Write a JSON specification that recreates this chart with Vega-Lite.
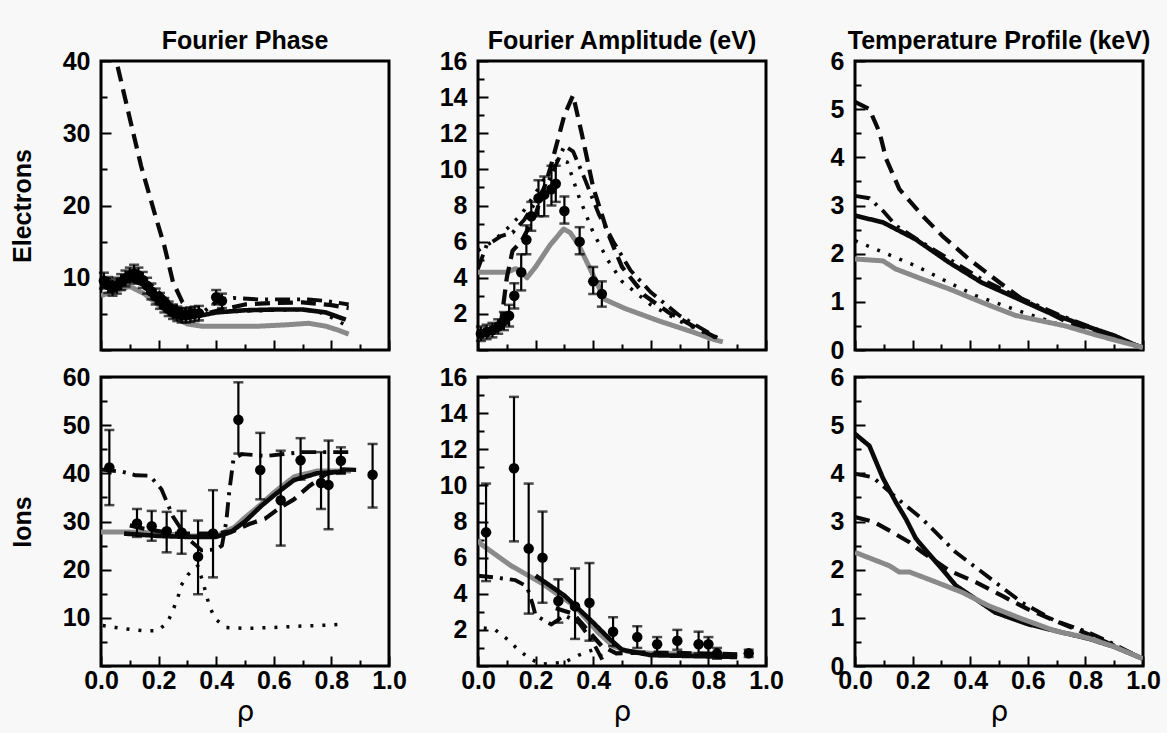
{
"$schema":"https://vega.github.io/schema/vega-lite/v6.json",
"background":"#f8f8f8",
"padding":{"left":8,"top":27,"right":5,"bottom":5},
"config":{
 "view":{"stroke":"#000","strokeWidth":3},
 "axis":{"grid":false,"domain":false,"tickColor":"#000","tickWidth":2,"labelFont":"Liberation Sans","labelFontWeight":"bold","labelFontSize":25,"labelColor":"#000","titleColor":"#000","labelFlush":false,"labelOverlap":false},
 "title":{"font":"Liberation Sans","fontSize":25,"fontWeight":"bold","color":"#000","baseline":"alphabetic","offset":-5}
},
"datasets":{
"L":[
{"p":"TL","s":"gray","x":0,"y":7.5},{"p":"TL","s":"gray","x":0.05,"y":8.2},{"p":"TL","s":"gray","x":0.1,"y":8.8},{"p":"TL","s":"gray","x":0.15,"y":7.8},{"p":"TL","s":"gray","x":0.2,"y":6.2},{"p":"TL","s":"gray","x":0.25,"y":4.6},{"p":"TL","s":"gray","x":0.3,"y":3.6},{"p":"TL","s":"gray","x":0.35,"y":3.3},{"p":"TL","s":"gray","x":0.45,"y":3.3},{"p":"TL","s":"gray","x":0.55,"y":3.3},{"p":"TL","s":"gray","x":0.65,"y":3.5},{"p":"TL","s":"gray","x":0.72,"y":3.7},{"p":"TL","s":"gray","x":0.78,"y":3.3},{"p":"TL","s":"gray","x":0.82,"y":2.8},{"p":"TL","s":"gray","x":0.86,"y":2.2},
{"p":"TL","s":"solid","x":0,"y":8.8},{"p":"TL","s":"solid","x":0.05,"y":9.2},{"p":"TL","s":"solid","x":0.1,"y":9.8},{"p":"TL","s":"solid","x":0.15,"y":9.0},{"p":"TL","s":"solid","x":0.2,"y":7.5},{"p":"TL","s":"solid","x":0.25,"y":6.0},{"p":"TL","s":"solid","x":0.3,"y":5.0},{"p":"TL","s":"solid","x":0.35,"y":4.8},{"p":"TL","s":"solid","x":0.4,"y":5.2},{"p":"TL","s":"solid","x":0.5,"y":5.5},{"p":"TL","s":"solid","x":0.6,"y":5.6},{"p":"TL","s":"solid","x":0.7,"y":5.6},{"p":"TL","s":"solid","x":0.78,"y":5.2},{"p":"TL","s":"solid","x":0.85,"y":4.2},
{"p":"TL","s":"dash","x":0.058,"y":39.2},{"p":"TL","s":"dash","x":0.098,"y":32.4},{"p":"TL","s":"dash","x":0.139,"y":25.5},{"p":"TL","s":"dash","x":0.185,"y":19.1},{"p":"TL","s":"dash","x":0.22,"y":14.4},{"p":"TL","s":"dash","x":0.25,"y":9.4},{"p":"TL","s":"dash","x":0.283,"y":6.6},{"p":"TL","s":"dash","x":0.32,"y":5.3},{"p":"TL","s":"dash","x":0.36,"y":5.0},{"p":"TL","s":"dash","x":0.4,"y":5.4},{"p":"TL","s":"dash","x":0.5,"y":6.3},{"p":"TL","s":"dash","x":0.6,"y":6.5},{"p":"TL","s":"dash","x":0.7,"y":6.6},{"p":"TL","s":"dash","x":0.8,"y":6.2},{"p":"TL","s":"dash","x":0.86,"y":5.8},
{"p":"TL","s":"dashdot","x":0,"y":9.5},{"p":"TL","s":"dashdot","x":0.06,"y":9.2},{"p":"TL","s":"dashdot","x":0.12,"y":10.3},{"p":"TL","s":"dashdot","x":0.18,"y":8.8},{"p":"TL","s":"dashdot","x":0.24,"y":6.5},{"p":"TL","s":"dashdot","x":0.3,"y":5.3},{"p":"TL","s":"dashdot","x":0.36,"y":5.4},{"p":"TL","s":"dashdot","x":0.41,"y":7.0},{"p":"TL","s":"dashdot","x":0.46,"y":7.2},{"p":"TL","s":"dashdot","x":0.55,"y":7.0},{"p":"TL","s":"dashdot","x":0.65,"y":7.0},{"p":"TL","s":"dashdot","x":0.72,"y":7.0},{"p":"TL","s":"dashdot","x":0.78,"y":6.8},{"p":"TL","s":"dashdot","x":0.86,"y":6.3},
{"p":"TL","s":"dot","x":0.3,"y":5.0},{"p":"TL","s":"dot","x":0.4,"y":5.2},{"p":"TL","s":"dot","x":0.5,"y":5.4},{"p":"TL","s":"dot","x":0.6,"y":5.5},{"p":"TL","s":"dot","x":0.7,"y":5.6},{"p":"TL","s":"dot","x":0.76,"y":5.2},{"p":"TL","s":"dot","x":0.8,"y":4.5},{"p":"TL","s":"dot","x":0.86,"y":3.2},

{"p":"TM","s":"gray","x":0,"y":4.3},{"p":"TM","s":"gray","x":0.05,"y":4.3},{"p":"TM","s":"gray","x":0.1,"y":4.3},{"p":"TM","s":"gray","x":0.13,"y":4.5},{"p":"TM","s":"gray","x":0.15,"y":4.4},{"p":"TM","s":"gray","x":0.17,"y":4.0},{"p":"TM","s":"gray","x":0.2,"y":4.6},{"p":"TM","s":"gray","x":0.25,"y":5.8},{"p":"TM","s":"gray","x":0.297,"y":6.7},{"p":"TM","s":"gray","x":0.32,"y":6.5},{"p":"TM","s":"gray","x":0.35,"y":5.8},{"p":"TM","s":"gray","x":0.395,"y":4.3},{"p":"TM","s":"gray","x":0.44,"y":2.8},{"p":"TM","s":"gray","x":0.51,"y":2.3},{"p":"TM","s":"gray","x":0.63,"y":1.6},{"p":"TM","s":"gray","x":0.745,"y":1.0},{"p":"TM","s":"gray","x":0.815,"y":0.6},{"p":"TM","s":"gray","x":0.85,"y":0.45},
{"p":"TM","s":"dash","x":0,"y":0.8},{"p":"TM","s":"dash","x":0.05,"y":1.0},{"p":"TM","s":"dash","x":0.08,"y":1.5},{"p":"TM","s":"dash","x":0.1,"y":4.0},{"p":"TM","s":"dash","x":0.12,"y":5.5},{"p":"TM","s":"dash","x":0.15,"y":6.0},{"p":"TM","s":"dash","x":0.2,"y":7.5},{"p":"TM","s":"dash","x":0.25,"y":10.0},{"p":"TM","s":"dash","x":0.3,"y":13.0},{"p":"TM","s":"dash","x":0.33,"y":14.1},{"p":"TM","s":"dash","x":0.36,"y":12.0},{"p":"TM","s":"dash","x":0.4,"y":9.0},{"p":"TM","s":"dash","x":0.45,"y":6.5},{"p":"TM","s":"dash","x":0.5,"y":4.6},{"p":"TM","s":"dash","x":0.58,"y":3.0},{"p":"TM","s":"dash","x":0.66,"y":2.1},{"p":"TM","s":"dash","x":0.75,"y":1.3},{"p":"TM","s":"dash","x":0.85,"y":0.5},
{"p":"TM","s":"dashdot","x":0,"y":4.5},{"p":"TM","s":"dashdot","x":0.03,"y":5.8},{"p":"TM","s":"dashdot","x":0.08,"y":6.3},{"p":"TM","s":"dashdot","x":0.12,"y":6.5},{"p":"TM","s":"dashdot","x":0.16,"y":7.2},{"p":"TM","s":"dashdot","x":0.2,"y":8.2},{"p":"TM","s":"dashdot","x":0.25,"y":9.5},{"p":"TM","s":"dashdot","x":0.3,"y":11.3},{"p":"TM","s":"dashdot","x":0.33,"y":11.0},{"p":"TM","s":"dashdot","x":0.37,"y":9.5},{"p":"TM","s":"dashdot","x":0.42,"y":7.5},{"p":"TM","s":"dashdot","x":0.47,"y":6.0},{"p":"TM","s":"dashdot","x":0.53,"y":4.4},{"p":"TM","s":"dashdot","x":0.6,"y":3.2},{"p":"TM","s":"dashdot","x":0.7,"y":1.9},{"p":"TM","s":"dashdot","x":0.85,"y":0.5},
{"p":"TM","s":"dot","x":0,"y":5.5},{"p":"TM","s":"dot","x":0.05,"y":6.0},{"p":"TM","s":"dot","x":0.1,"y":6.7},{"p":"TM","s":"dot","x":0.15,"y":7.5},{"p":"TM","s":"dot","x":0.2,"y":8.7},{"p":"TM","s":"dot","x":0.25,"y":10.0},{"p":"TM","s":"dot","x":0.28,"y":10.6},{"p":"TM","s":"dot","x":0.31,"y":10.4},{"p":"TM","s":"dot","x":0.35,"y":8.5},{"p":"TM","s":"dot","x":0.4,"y":6.5},{"p":"TM","s":"dot","x":0.45,"y":5.0},{"p":"TM","s":"dot","x":0.5,"y":3.8},{"p":"TM","s":"dot","x":0.6,"y":2.5},{"p":"TM","s":"dot","x":0.7,"y":1.6},{"p":"TM","s":"dot","x":0.85,"y":0.5},

{"p":"TR","s":"dash","x":0,"y":5.15},{"p":"TR","s":"dash","x":0.05,"y":5.0},{"p":"TR","s":"dash","x":0.085,"y":4.52},{"p":"TR","s":"dash","x":0.108,"y":3.97},{"p":"TR","s":"dash","x":0.154,"y":3.34},{"p":"TR","s":"dash","x":0.234,"y":2.79},{"p":"TR","s":"dash","x":0.303,"y":2.37},{"p":"TR","s":"dash","x":0.395,"y":1.89},{"p":"TR","s":"dash","x":0.487,"y":1.47},{"p":"TR","s":"dash","x":0.579,"y":1.06},{"p":"TR","s":"dash","x":0.73,"y":0.6},{"p":"TR","s":"dash","x":0.85,"y":0.35},{"p":"TR","s":"dash","x":1,"y":0.05},
{"p":"TR","s":"dashdot","x":0,"y":3.2},{"p":"TR","s":"dashdot","x":0.05,"y":3.15},{"p":"TR","s":"dashdot","x":0.097,"y":2.89},{"p":"TR","s":"dashdot","x":0.142,"y":2.58},{"p":"TR","s":"dashdot","x":0.234,"y":2.23},{"p":"TR","s":"dashdot","x":0.326,"y":1.89},{"p":"TR","s":"dashdot","x":0.44,"y":1.47},{"p":"TR","s":"dashdot","x":0.556,"y":1.13},{"p":"TR","s":"dashdot","x":0.7,"y":0.75},{"p":"TR","s":"dashdot","x":0.85,"y":0.4},{"p":"TR","s":"dashdot","x":1,"y":0.05},
{"p":"TR","s":"solid","x":0,"y":2.79},{"p":"TR","s":"solid","x":0.097,"y":2.65},{"p":"TR","s":"solid","x":0.21,"y":2.3},{"p":"TR","s":"solid","x":0.326,"y":1.82},{"p":"TR","s":"solid","x":0.44,"y":1.4},{"p":"TR","s":"solid","x":0.556,"y":1.09},{"p":"TR","s":"solid","x":0.671,"y":0.78},{"p":"TR","s":"solid","x":0.8,"y":0.5},{"p":"TR","s":"solid","x":0.9,"y":0.3},{"p":"TR","s":"solid","x":1,"y":0.03},
{"p":"TR","s":"dot","x":0,"y":2.27},{"p":"TR","s":"dot","x":0.097,"y":2.03},{"p":"TR","s":"dot","x":0.21,"y":1.75},{"p":"TR","s":"dot","x":0.326,"y":1.4},{"p":"TR","s":"dot","x":0.419,"y":1.13},{"p":"TR","s":"dot","x":0.55,"y":0.85},{"p":"TR","s":"dot","x":0.7,"y":0.55},{"p":"TR","s":"dot","x":0.85,"y":0.3},{"p":"TR","s":"dot","x":1,"y":0.05},
{"p":"TR","s":"gray","x":0,"y":1.89},{"p":"TR","s":"gray","x":0.097,"y":1.85},{"p":"TR","s":"gray","x":0.142,"y":1.68},{"p":"TR","s":"gray","x":0.234,"y":1.47},{"p":"TR","s":"gray","x":0.326,"y":1.27},{"p":"TR","s":"gray","x":0.44,"y":0.99},{"p":"TR","s":"gray","x":0.556,"y":0.72},{"p":"TR","s":"gray","x":0.73,"y":0.5},{"p":"TR","s":"gray","x":0.844,"y":0.3},{"p":"TR","s":"gray","x":1,"y":0.05},

{"p":"BL","s":"gray","x":0,"y":27.8},{"p":"BL","s":"gray","x":0.1,"y":27.8},{"p":"BL","s":"gray","x":0.2,"y":27.6},{"p":"BL","s":"gray","x":0.3,"y":27.0},{"p":"BL","s":"gray","x":0.4,"y":27.0},{"p":"BL","s":"gray","x":0.463,"y":28.8},{"p":"BL","s":"gray","x":0.5,"y":30.8},{"p":"BL","s":"gray","x":0.556,"y":33.6},{"p":"BL","s":"gray","x":0.6,"y":36.0},{"p":"BL","s":"gray","x":0.671,"y":39.3},{"p":"BL","s":"gray","x":0.752,"y":40.5},{"p":"BL","s":"gray","x":0.868,"y":40.5},
{"p":"BL","s":"solid","x":0.08,"y":27.5},{"p":"BL","s":"solid","x":0.2,"y":27.0},{"p":"BL","s":"solid","x":0.3,"y":26.8},{"p":"BL","s":"solid","x":0.4,"y":26.8},{"p":"BL","s":"solid","x":0.45,"y":27.8},{"p":"BL","s":"solid","x":0.5,"y":30.0},{"p":"BL","s":"solid","x":0.556,"y":33.2},{"p":"BL","s":"solid","x":0.6,"y":35.4},{"p":"BL","s":"solid","x":0.67,"y":38.6},{"p":"BL","s":"solid","x":0.75,"y":40.0},{"p":"BL","s":"solid","x":0.85,"y":40.4},
{"p":"BL","s":"dash","x":0.1,"y":29.2},{"p":"BL","s":"dash","x":0.15,"y":28.5},{"p":"BL","s":"dash","x":0.25,"y":27.5},{"p":"BL","s":"dash","x":0.4,"y":27.5},{"p":"BL","s":"dash","x":0.46,"y":28.0},{"p":"BL","s":"dash","x":0.52,"y":29.6},{"p":"BL","s":"dash","x":0.57,"y":30.6},{"p":"BL","s":"dash","x":0.62,"y":32.8},{"p":"BL","s":"dash","x":0.67,"y":34.6},{"p":"BL","s":"dash","x":0.72,"y":37.2},{"p":"BL","s":"dash","x":0.78,"y":39.8},{"p":"BL","s":"dash","x":0.84,"y":40.8},{"p":"BL","s":"dash","x":0.9,"y":40.7},
{"p":"BL","s":"dashdot","x":0,"y":40.8},{"p":"BL","s":"dashdot","x":0.075,"y":40.3},{"p":"BL","s":"dashdot","x":0.12,"y":39.6},{"p":"BL","s":"dashdot","x":0.17,"y":39.5},{"p":"BL","s":"dashdot","x":0.21,"y":36.7},{"p":"BL","s":"dashdot","x":0.25,"y":31.0},{"p":"BL","s":"dashdot","x":0.3,"y":26.5},{"p":"BL","s":"dashdot","x":0.35,"y":24.0},{"p":"BL","s":"dashdot","x":0.4,"y":24.2},{"p":"BL","s":"dashdot","x":0.42,"y":25.0},{"p":"BL","s":"dashdot","x":0.435,"y":30.0},{"p":"BL","s":"dashdot","x":0.445,"y":36.0},{"p":"BL","s":"dashdot","x":0.46,"y":43.0},{"p":"BL","s":"dashdot","x":0.49,"y":44.0},{"p":"BL","s":"dashdot","x":0.57,"y":43.6},{"p":"BL","s":"dashdot","x":0.7,"y":44.4},{"p":"BL","s":"dashdot","x":0.87,"y":44.4},
{"p":"BL","s":"dot","x":0.006,"y":8.4},{"p":"BL","s":"dot","x":0.05,"y":8.0},{"p":"BL","s":"dot","x":0.1,"y":7.6},{"p":"BL","s":"dot","x":0.15,"y":7.3},{"p":"BL","s":"dot","x":0.196,"y":7.3},{"p":"BL","s":"dot","x":0.231,"y":9.0},{"p":"BL","s":"dot","x":0.249,"y":11.5},{"p":"BL","s":"dot","x":0.266,"y":14.0},{"p":"BL","s":"dot","x":0.278,"y":16.7},{"p":"BL","s":"dot","x":0.301,"y":18.9},{"p":"BL","s":"dot","x":0.336,"y":20.8},{"p":"BL","s":"dot","x":0.356,"y":17.0},{"p":"BL","s":"dot","x":0.376,"y":12.5},{"p":"BL","s":"dot","x":0.396,"y":9.8},{"p":"BL","s":"dot","x":0.434,"y":8.0},{"p":"BL","s":"dot","x":0.5,"y":7.8},{"p":"BL","s":"dot","x":0.6,"y":8.0},{"p":"BL","s":"dot","x":0.7,"y":8.3},{"p":"BL","s":"dot","x":0.8,"y":8.5},{"p":"BL","s":"dot","x":0.845,"y":8.7},

{"p":"BM","s":"gray","x":0,"y":7.0},{"p":"BM","s":"gray","x":0.01,"y":6.75},{"p":"BM","s":"gray","x":0.115,"y":5.55},{"p":"BM","s":"gray","x":0.22,"y":4.6},{"p":"BM","s":"gray","x":0.337,"y":3.3},{"p":"BM","s":"gray","x":0.418,"y":1.85},{"p":"BM","s":"gray","x":0.47,"y":1.1},{"p":"BM","s":"gray","x":0.52,"y":0.8},{"p":"BM","s":"gray","x":0.6,"y":0.7},{"p":"BM","s":"gray","x":0.75,"y":0.65},{"p":"BM","s":"gray","x":0.9,"y":0.6},
{"p":"BM","s":"solid","x":0.2,"y":5.0},{"p":"BM","s":"solid","x":0.3,"y":3.9},{"p":"BM","s":"solid","x":0.4,"y":2.4},{"p":"BM","s":"solid","x":0.45,"y":1.6},{"p":"BM","s":"solid","x":0.5,"y":0.9},{"p":"BM","s":"solid","x":0.6,"y":0.6},{"p":"BM","s":"solid","x":0.75,"y":0.55},{"p":"BM","s":"solid","x":0.9,"y":0.5},
{"p":"BM","s":"dashdot","x":0,"y":5.0},{"p":"BM","s":"dashdot","x":0.06,"y":4.9},{"p":"BM","s":"dashdot","x":0.13,"y":4.75},{"p":"BM","s":"dashdot","x":0.17,"y":4.4},{"p":"BM","s":"dashdot","x":0.19,"y":3.4},{"p":"BM","s":"dashdot","x":0.2,"y":2.8},{"p":"BM","s":"dashdot","x":0.255,"y":2.3},{"p":"BM","s":"dashdot","x":0.3,"y":2.8},{"p":"BM","s":"dashdot","x":0.35,"y":2.4},{"p":"BM","s":"dashdot","x":0.4,"y":1.3},{"p":"BM","s":"dashdot","x":0.44,"y":0.1},
{"p":"BM","s":"dash","x":0.27,"y":3.2},{"p":"BM","s":"dash","x":0.33,"y":2.9},{"p":"BM","s":"dash","x":0.38,"y":2.0},{"p":"BM","s":"dash","x":0.43,"y":1.1},{"p":"BM","s":"dash","x":0.48,"y":0.7},{"p":"BM","s":"dash","x":0.6,"y":0.75},{"p":"BM","s":"dash","x":0.75,"y":0.7},{"p":"BM","s":"dash","x":0.9,"y":0.65},
{"p":"BM","s":"dot","x":0.02,"y":2.1},{"p":"BM","s":"dot","x":0.06,"y":2.0},{"p":"BM","s":"dot","x":0.1,"y":1.5},{"p":"BM","s":"dot","x":0.14,"y":0.9},{"p":"BM","s":"dot","x":0.18,"y":0.4},{"p":"BM","s":"dot","x":0.22,"y":0.1},{"p":"BM","s":"dot","x":0.3,"y":0.2},{"p":"BM","s":"dot","x":0.35,"y":0.6},{"p":"BM","s":"dot","x":0.4,"y":0.9},{"p":"BM","s":"dot","x":0.45,"y":0.3},

{"p":"BR","s":"solid","x":0,"y":4.82},{"p":"BR","s":"solid","x":0.05,"y":4.57},{"p":"BR","s":"solid","x":0.097,"y":3.9},{"p":"BR","s":"solid","x":0.142,"y":3.4},{"p":"BR","s":"solid","x":0.177,"y":3.05},{"p":"BR","s":"solid","x":0.211,"y":2.65},{"p":"BR","s":"solid","x":0.246,"y":2.4},{"p":"BR","s":"solid","x":0.303,"y":2.01},{"p":"BR","s":"solid","x":0.35,"y":1.67},{"p":"BR","s":"solid","x":0.419,"y":1.39},{"p":"BR","s":"solid","x":0.487,"y":1.11},{"p":"BR","s":"solid","x":0.6,"y":0.87},{"p":"BR","s":"solid","x":0.717,"y":0.7},{"p":"BR","s":"solid","x":0.81,"y":0.57},{"p":"BR","s":"solid","x":0.9,"y":0.4},{"p":"BR","s":"solid","x":1,"y":0.15},
{"p":"BR","s":"dashdot","x":0,"y":3.99},{"p":"BR","s":"dashdot","x":0.062,"y":3.92},{"p":"BR","s":"dashdot","x":0.154,"y":3.44},{"p":"BR","s":"dashdot","x":0.234,"y":3.05},{"p":"BR","s":"dashdot","x":0.35,"y":2.36},{"p":"BR","s":"dashdot","x":0.487,"y":1.74},{"p":"BR","s":"dashdot","x":0.579,"y":1.32},{"p":"BR","s":"dashdot","x":0.694,"y":0.94},{"p":"BR","s":"dashdot","x":0.81,"y":0.7},{"p":"BR","s":"dashdot","x":0.9,"y":0.45},{"p":"BR","s":"dashdot","x":1,"y":0.15},
{"p":"BR","s":"dash","x":0,"y":3.09},{"p":"BR","s":"dash","x":0.062,"y":3.0},{"p":"BR","s":"dash","x":0.12,"y":2.81},{"p":"BR","s":"dash","x":0.189,"y":2.57},{"p":"BR","s":"dash","x":0.234,"y":2.36},{"p":"BR","s":"dash","x":0.327,"y":1.98},{"p":"BR","s":"dash","x":0.419,"y":1.74},{"p":"BR","s":"dash","x":0.51,"y":1.46},{"p":"BR","s":"dash","x":0.6,"y":1.18},{"p":"BR","s":"dash","x":0.694,"y":0.94},{"p":"BR","s":"dash","x":0.81,"y":0.66},{"p":"BR","s":"dash","x":0.9,"y":0.42},{"p":"BR","s":"dash","x":1,"y":0.15},
{"p":"BR","s":"gray","x":0,"y":2.36},{"p":"BR","s":"gray","x":0.12,"y":2.08},{"p":"BR","s":"gray","x":0.154,"y":1.95},{"p":"BR","s":"gray","x":0.19,"y":1.95},{"p":"BR","s":"gray","x":0.269,"y":1.77},{"p":"BR","s":"gray","x":0.372,"y":1.53},{"p":"BR","s":"gray","x":0.464,"y":1.25},{"p":"BR","s":"gray","x":0.579,"y":0.98},{"p":"BR","s":"gray","x":0.694,"y":0.73},{"p":"BR","s":"gray","x":0.81,"y":0.58},{"p":"BR","s":"gray","x":0.9,"y":0.4},{"p":"BR","s":"gray","x":1,"y":0.15}
],
"P":[
{"p":"TL","x":0.01,"y":9.6,"lo":8.5,"hi":10.7},{"p":"TL","x":0.025,"y":9.0,"lo":7.9,"hi":10.1},{"p":"TL","x":0.04,"y":8.6,"lo":7.5,"hi":9.7},{"p":"TL","x":0.055,"y":8.9,"lo":7.8,"hi":10.0},{"p":"TL","x":0.07,"y":9.4,"lo":8.3,"hi":10.5},{"p":"TL","x":0.085,"y":9.9,"lo":8.8,"hi":11.0},{"p":"TL","x":0.1,"y":10.3,"lo":9.2,"hi":11.4},{"p":"TL","x":0.115,"y":10.6,"lo":9.5,"hi":11.8},{"p":"TL","x":0.13,"y":10.3,"lo":9.2,"hi":11.4},{"p":"TL","x":0.145,"y":9.7,"lo":8.6,"hi":10.8},{"p":"TL","x":0.16,"y":8.9,"lo":7.8,"hi":10.0},{"p":"TL","x":0.175,"y":8.1,"lo":7.0,"hi":9.2},{"p":"TL","x":0.19,"y":7.4,"lo":6.3,"hi":8.5},{"p":"TL","x":0.205,"y":6.8,"lo":5.7,"hi":7.9},{"p":"TL","x":0.22,"y":6.2,"lo":5.2,"hi":7.2},{"p":"TL","x":0.235,"y":5.7,"lo":4.7,"hi":6.7},{"p":"TL","x":0.25,"y":5.3,"lo":4.3,"hi":6.3},{"p":"TL","x":0.265,"y":5.0,"lo":4.0,"hi":6.0},{"p":"TL","x":0.28,"y":4.8,"lo":3.8,"hi":5.8},{"p":"TL","x":0.295,"y":4.8,"lo":3.8,"hi":5.8},{"p":"TL","x":0.31,"y":4.9,"lo":3.9,"hi":5.9},{"p":"TL","x":0.325,"y":5.0,"lo":4.0,"hi":6.0},{"p":"TL","x":0.34,"y":5.1,"lo":4.1,"hi":6.1},{"p":"TL","x":0.4,"y":7.3,"lo":6.3,"hi":8.3},{"p":"TL","x":0.42,"y":6.8,"lo":5.8,"hi":7.8},
{"p":"TM","x":0.01,"y":0.9,"lo":0.5,"hi":1.3},{"p":"TM","x":0.03,"y":1.0,"lo":0.6,"hi":1.4},{"p":"TM","x":0.05,"y":1.1,"lo":0.7,"hi":1.5},{"p":"TM","x":0.07,"y":1.3,"lo":0.9,"hi":1.7},{"p":"TM","x":0.09,"y":1.6,"lo":1.1,"hi":2.1},{"p":"TM","x":0.108,"y":1.9,"lo":1.3,"hi":2.5},{"p":"TM","x":0.126,"y":3.0,"lo":2.3,"hi":3.7},{"p":"TM","x":0.15,"y":4.3,"lo":3.3,"hi":5.3},{"p":"TM","x":0.168,"y":6.1,"lo":5.3,"hi":6.9},{"p":"TM","x":0.185,"y":7.4,"lo":6.6,"hi":8.2},{"p":"TM","x":0.21,"y":8.4,"lo":7.4,"hi":9.4},{"p":"TM","x":0.23,"y":8.6,"lo":7.4,"hi":9.6},{"p":"TM","x":0.255,"y":8.9,"lo":8.0,"hi":10.2},{"p":"TM","x":0.27,"y":9.2,"lo":8.2,"hi":10.2},{"p":"TM","x":0.3,"y":7.7,"lo":7.0,"hi":8.5},{"p":"TM","x":0.353,"y":6.0,"lo":5.3,"hi":6.8},{"p":"TM","x":0.4,"y":3.8,"lo":3.1,"hi":4.6},{"p":"TM","x":0.43,"y":3.1,"lo":2.4,"hi":3.8},
{"p":"BL","x":0.029,"y":41.2,"lo":33.4,"hi":49.0},{"p":"BL","x":0.125,"y":29.6,"lo":26.8,"hi":32.6},{"p":"BL","x":0.176,"y":29.0,"lo":26.0,"hi":32.2},{"p":"BL","x":0.228,"y":28.0,"lo":23.6,"hi":32.0},{"p":"BL","x":0.28,"y":27.7,"lo":23.3,"hi":32.2},{"p":"BL","x":0.337,"y":22.7,"lo":14.9,"hi":30.2},{"p":"BL","x":0.389,"y":27.5,"lo":18.4,"hi":36.5},{"p":"BL","x":0.477,"y":51.1,"lo":44.1,"hi":58.9},{"p":"BL","x":0.553,"y":40.7,"lo":34.6,"hi":48.4},{"p":"BL","x":0.624,"y":34.4,"lo":25.0,"hi":44.7},{"p":"BL","x":0.693,"y":42.7,"lo":38.7,"hi":47.3},{"p":"BL","x":0.764,"y":38.0,"lo":32.6,"hi":44.4},{"p":"BL","x":0.79,"y":37.6,"lo":28.4,"hi":46.8},{"p":"BL","x":0.833,"y":42.6,"lo":39.9,"hi":45.4},{"p":"BL","x":0.943,"y":39.7,"lo":32.9,"hi":46.1},
{"p":"BM","x":0.028,"y":7.4,"lo":4.7,"hi":10.1},{"p":"BM","x":0.125,"y":10.95,"lo":6.9,"hi":14.9},{"p":"BM","x":0.176,"y":6.5,"lo":2.9,"hi":10.1},{"p":"BM","x":0.224,"y":6.0,"lo":3.5,"hi":8.55},{"p":"BM","x":0.279,"y":3.6,"lo":2.4,"hi":4.8},{"p":"BM","x":0.337,"y":3.3,"lo":1.5,"hi":5.4},{"p":"BM","x":0.387,"y":3.5,"lo":1.4,"hi":5.7},{"p":"BM","x":0.469,"y":1.9,"lo":1.1,"hi":2.7},{"p":"BM","x":0.553,"y":1.6,"lo":1.0,"hi":2.2},{"p":"BM","x":0.622,"y":1.2,"lo":0.7,"hi":1.6},{"p":"BM","x":0.692,"y":1.4,"lo":0.9,"hi":2.0},{"p":"BM","x":0.766,"y":1.2,"lo":0.7,"hi":1.9},{"p":"BM","x":0.8,"y":1.2,"lo":0.7,"hi":1.6},{"p":"BM","x":0.83,"y":0.7,"lo":0.4,"hi":1.0},{"p":"BM","x":0.94,"y":0.7,"lo":0.5,"hi":0.9}
]
},
"columns":3,
"bounds":"flush",
"spacing":{"row":27,"column":89},
"concat":[
{"width":288,"height":289,"title":{"text":"Fourier Phase"},
 "layer":[
  {"data":{"name":"L"},"transform":[{"filter":"datum.p=='TL'"}],"mark":{"type":"line","clip":true,"strokeCap":"butt","strokeJoin":"round"},
   "encoding":{
    "x":{"field":"x","type":"quantitative","scale":{"domain":[0,1]},"axis":{"values":[0,0.1,0.2,0.3,0.4,0.5,0.6,0.7,0.8,0.9,1],"labels":false,"title":null,"tickSize":{"condition":{"test":"round(datum.value*10)%2==0","value":-10},"value":-6}}},
    "y":{"field":"y","type":"quantitative","scale":{"domain":[0,40]},"axis":{"values":[0,5,10,15,20,25,30,35,40],"labelOverlap":false,"labelExpr":"datum.value>0 && datum.value%10==0 ? datum.label : ''","tickSize":{"condition":{"test":"datum.value%10==0","value":-10},"value":-6},"labelPadding":21,"title":"Electrons","titleFont":"Liberation Sans","titleFontSize":25,"titleFontWeight":"bold","titlePadding":27}},
    "stroke":{"field":"s","type":"nominal","scale":{"domain":["gray","solid","dash","dashdot","dot"],"range":["#8a8a8a","#0a0a0a","#0a0a0a","#0a0a0a","#0a0a0a"]},"legend":null},
    "strokeDash":{"field":"s","type":"nominal","scale":{"domain":["gray","solid","dash","dashdot","dot"],"range":[[1,0],[1,0],[15,8],[15,7,3,7],[3,9]]},"legend":null},
    "strokeWidth":{"field":"s","type":"nominal","scale":{"domain":["gray","solid","dash","dashdot","dot"],"range":[5,3.5,4.5,4.5,4.5]},"legend":null}
   }},
  {"data":{"name":"P"},"transform":[{"filter":"datum.p=='TL'"}],"mark":{"type":"rule","color":"#000","strokeWidth":2.2},"encoding":{
    "x":{"field":"x","type":"quantitative","axis":{"values":[0,0.1,0.2,0.3,0.4,0.5,0.6,0.7,0.8,0.9,1],"labels":false,"title":null,"tickSize":{"condition":{"test":"round(datum.value*10)%2==0","value":-10},"value":-6}}},
    "y":{"field":"lo","type":"quantitative","axis":{"values":[0,5,10,15,20,25,30,35,40],"labelOverlap":false,"labelExpr":"datum.value>0 && datum.value%10==0 ? datum.label : ''","tickSize":{"condition":{"test":"datum.value%10==0","value":-10},"value":-6},"labelPadding":21,"title":"Electrons","titleFont":"Liberation Sans","titleFontSize":25,"titleFontWeight":"bold","titlePadding":27}},
    "y2":{"field":"hi"}}},
  {"data":{"name":"P"},"transform":[{"filter":"datum.p=='TL'"}],"mark":{"type":"tick","orient":"horizontal","color":"#000","size":10,"thickness":2.5},"encoding":{
    "x":{"field":"x","type":"quantitative","axis":{"values":[0,0.1,0.2,0.3,0.4,0.5,0.6,0.7,0.8,0.9,1],"labels":false,"title":null,"tickSize":{"condition":{"test":"round(datum.value*10)%2==0","value":-10},"value":-6}}},
    "y":{"field":"hi","type":"quantitative","axis":{"values":[0,5,10,15,20,25,30,35,40],"labelOverlap":false,"labelExpr":"datum.value>0 && datum.value%10==0 ? datum.label : ''","tickSize":{"condition":{"test":"datum.value%10==0","value":-10},"value":-6},"labelPadding":21,"title":"Electrons","titleFont":"Liberation Sans","titleFontSize":25,"titleFontWeight":"bold","titlePadding":27}}}},
  {"data":{"name":"P"},"transform":[{"filter":"datum.p=='TL'"}],"mark":{"type":"tick","orient":"horizontal","color":"#000","size":10,"thickness":2.5},"encoding":{
    "x":{"field":"x","type":"quantitative","axis":{"values":[0,0.1,0.2,0.3,0.4,0.5,0.6,0.7,0.8,0.9,1],"labels":false,"title":null,"tickSize":{"condition":{"test":"round(datum.value*10)%2==0","value":-10},"value":-6}}},
    "y":{"field":"lo","type":"quantitative","axis":{"values":[0,5,10,15,20,25,30,35,40],"labelOverlap":false,"labelExpr":"datum.value>0 && datum.value%10==0 ? datum.label : ''","tickSize":{"condition":{"test":"datum.value%10==0","value":-10},"value":-6},"labelPadding":21,"title":"Electrons","titleFont":"Liberation Sans","titleFontSize":25,"titleFontWeight":"bold","titlePadding":27}}}},
  {"data":{"name":"P"},"transform":[{"filter":"datum.p=='TL'"}],"mark":{"type":"point","shape":"circle","filled":true,"color":"#000","opacity":1,"size":110},"encoding":{
    "x":{"field":"x","type":"quantitative","axis":{"values":[0,0.1,0.2,0.3,0.4,0.5,0.6,0.7,0.8,0.9,1],"labels":false,"title":null,"tickSize":{"condition":{"test":"round(datum.value*10)%2==0","value":-10},"value":-6}}},
    "y":{"field":"y","type":"quantitative","axis":{"values":[0,5,10,15,20,25,30,35,40],"labelOverlap":false,"labelExpr":"datum.value>0 && datum.value%10==0 ? datum.label : ''","tickSize":{"condition":{"test":"datum.value%10==0","value":-10},"value":-6},"labelPadding":21,"title":"Electrons","titleFont":"Liberation Sans","titleFontSize":25,"titleFontWeight":"bold","titlePadding":27}}}}
 ]},
{"width":288,"height":289,"title":{"text":"Fourier Amplitude (eV)"},
 "layer":[
  {"data":{"name":"L"},"transform":[{"filter":"datum.p=='TM'"}],"mark":{"type":"line","clip":true,"strokeCap":"butt","strokeJoin":"round"},
   "encoding":{
    "x":{"field":"x","type":"quantitative","scale":{"domain":[0,1]},"axis":{"values":[0,0.1,0.2,0.3,0.4,0.5,0.6,0.7,0.8,0.9,1],"labels":false,"title":null,"tickSize":{"condition":{"test":"round(datum.value*10)%2==0","value":-10},"value":-6}}},
    "y":{"field":"y","type":"quantitative","scale":{"domain":[0,16]},"axis":{"values":[0,1,2,3,4,5,6,7,8,9,10,11,12,13,14,15,16],"labelOverlap":false,"labelExpr":"datum.value>0 && datum.value%2==0 ? datum.label : ''","tickSize":{"condition":{"test":"datum.value%2==0","value":-10},"value":-6},"labelPadding":21,"title":null}},
    "stroke":{"field":"s","type":"nominal","scale":{"domain":["gray","solid","dash","dashdot","dot"],"range":["#8a8a8a","#0a0a0a","#0a0a0a","#0a0a0a","#0a0a0a"]},"legend":null},
    "strokeDash":{"field":"s","type":"nominal","scale":{"domain":["gray","solid","dash","dashdot","dot"],"range":[[1,0],[1,0],[15,8],[15,7,3,7],[3,9]]},"legend":null},
    "strokeWidth":{"field":"s","type":"nominal","scale":{"domain":["gray","solid","dash","dashdot","dot"],"range":[5,3.5,4.5,4.5,4.5]},"legend":null}
   }},
  {"data":{"name":"P"},"transform":[{"filter":"datum.p=='TM'"}],"mark":{"type":"rule","color":"#000","strokeWidth":2.2},"encoding":{
    "x":{"field":"x","type":"quantitative","axis":{"values":[0,0.1,0.2,0.3,0.4,0.5,0.6,0.7,0.8,0.9,1],"labels":false,"title":null,"tickSize":{"condition":{"test":"round(datum.value*10)%2==0","value":-10},"value":-6}}},
    "y":{"field":"lo","type":"quantitative","axis":{"values":[0,1,2,3,4,5,6,7,8,9,10,11,12,13,14,15,16],"labelOverlap":false,"labelExpr":"datum.value>0 && datum.value%2==0 ? datum.label : ''","tickSize":{"condition":{"test":"datum.value%2==0","value":-10},"value":-6},"labelPadding":21,"title":null}},
    "y2":{"field":"hi"}}},
  {"data":{"name":"P"},"transform":[{"filter":"datum.p=='TM'"}],"mark":{"type":"tick","orient":"horizontal","color":"#000","size":10,"thickness":2.5},"encoding":{
    "x":{"field":"x","type":"quantitative","axis":{"values":[0,0.1,0.2,0.3,0.4,0.5,0.6,0.7,0.8,0.9,1],"labels":false,"title":null,"tickSize":{"condition":{"test":"round(datum.value*10)%2==0","value":-10},"value":-6}}},
    "y":{"field":"hi","type":"quantitative","axis":{"values":[0,1,2,3,4,5,6,7,8,9,10,11,12,13,14,15,16],"labelOverlap":false,"labelExpr":"datum.value>0 && datum.value%2==0 ? datum.label : ''","tickSize":{"condition":{"test":"datum.value%2==0","value":-10},"value":-6},"labelPadding":21,"title":null}}}},
  {"data":{"name":"P"},"transform":[{"filter":"datum.p=='TM'"}],"mark":{"type":"tick","orient":"horizontal","color":"#000","size":10,"thickness":2.5},"encoding":{
    "x":{"field":"x","type":"quantitative","axis":{"values":[0,0.1,0.2,0.3,0.4,0.5,0.6,0.7,0.8,0.9,1],"labels":false,"title":null,"tickSize":{"condition":{"test":"round(datum.value*10)%2==0","value":-10},"value":-6}}},
    "y":{"field":"lo","type":"quantitative","axis":{"values":[0,1,2,3,4,5,6,7,8,9,10,11,12,13,14,15,16],"labelOverlap":false,"labelExpr":"datum.value>0 && datum.value%2==0 ? datum.label : ''","tickSize":{"condition":{"test":"datum.value%2==0","value":-10},"value":-6},"labelPadding":21,"title":null}}}},
  {"data":{"name":"P"},"transform":[{"filter":"datum.p=='TM'"}],"mark":{"type":"point","shape":"circle","filled":true,"color":"#000","opacity":1,"size":110},"encoding":{
    "x":{"field":"x","type":"quantitative","axis":{"values":[0,0.1,0.2,0.3,0.4,0.5,0.6,0.7,0.8,0.9,1],"labels":false,"title":null,"tickSize":{"condition":{"test":"round(datum.value*10)%2==0","value":-10},"value":-6}}},
    "y":{"field":"y","type":"quantitative","axis":{"values":[0,1,2,3,4,5,6,7,8,9,10,11,12,13,14,15,16],"labelOverlap":false,"labelExpr":"datum.value>0 && datum.value%2==0 ? datum.label : ''","tickSize":{"condition":{"test":"datum.value%2==0","value":-10},"value":-6},"labelPadding":21,"title":null}}}}
 ]},
{"width":288,"height":289,"title":{"text":"Temperature Profile (keV)"},
 "layer":[
  {"data":{"name":"L"},"transform":[{"filter":"datum.p=='TR'"}],"mark":{"type":"line","clip":true,"strokeCap":"butt","strokeJoin":"round"},
   "encoding":{
    "x":{"field":"x","type":"quantitative","scale":{"domain":[0,1]},"axis":{"values":[0,0.1,0.2,0.3,0.4,0.5,0.6,0.7,0.8,0.9,1],"labels":false,"title":null,"tickSize":{"condition":{"test":"round(datum.value*10)%2==0","value":-10},"value":-6}}},
    "y":{"field":"y","type":"quantitative","scale":{"domain":[0,6]},"axis":{"values":[0,0.5,1,1.5,2,2.5,3,3.5,4,4.5,5,5.5,6],"labelOverlap":false,"labelExpr":"datum.value%1==0 ? format(datum.value,'d') : ''","tickSize":{"condition":{"test":"datum.value%1==0","value":-10},"value":-6},"labelPadding":21,"title":null}},
    "stroke":{"field":"s","type":"nominal","scale":{"domain":["gray","solid","dash","dashdot","dot"],"range":["#8a8a8a","#0a0a0a","#0a0a0a","#0a0a0a","#0a0a0a"]},"legend":null},
    "strokeDash":{"field":"s","type":"nominal","scale":{"domain":["gray","solid","dash","dashdot","dot"],"range":[[1,0],[1,0],[15,8],[15,7,3,7],[3,9]]},"legend":null},
    "strokeWidth":{"field":"s","type":"nominal","scale":{"domain":["gray","solid","dash","dashdot","dot"],"range":[5,3.5,4.5,4.5,4.5]},"legend":null}
   }}
 ]},
{"width":288,"height":289,
 "layer":[
  {"data":{"name":"L"},"transform":[{"filter":"datum.p=='BL'"}],"mark":{"type":"line","clip":true,"strokeCap":"butt","strokeJoin":"round"},
   "encoding":{
    "x":{"field":"x","type":"quantitative","scale":{"domain":[0,1]},"axis":{"values":[0,0.1,0.2,0.3,0.4,0.5,0.6,0.7,0.8,0.9,1],"labelOverlap":false,"labelExpr":"round(datum.value*10)%2==0 ? format(datum.value,'.1f') : ''","tickSize":{"condition":{"test":"round(datum.value*10)%2==0","value":-10},"value":-6},"labelPadding":12,"title":"ρ","titleFont":"DejaVu Sans","titleFontSize":28,"titleFontWeight":"normal","titlePadding":1}},
    "y":{"field":"y","type":"quantitative","scale":{"domain":[0,60]},"axis":{"values":[0,5,10,15,20,25,30,35,40,45,50,55,60],"labelOverlap":false,"labelExpr":"datum.value>0 && datum.value%10==0 ? datum.label : ''","tickSize":{"condition":{"test":"datum.value%10==0","value":-10},"value":-6},"labelPadding":21,"title":"Ions","titleFont":"Liberation Sans","titleFontSize":25,"titleFontWeight":"bold","titlePadding":27}},
    "stroke":{"field":"s","type":"nominal","scale":{"domain":["gray","solid","dash","dashdot","dot"],"range":["#8a8a8a","#0a0a0a","#0a0a0a","#0a0a0a","#0a0a0a"]},"legend":null},
    "strokeDash":{"field":"s","type":"nominal","scale":{"domain":["gray","solid","dash","dashdot","dot"],"range":[[1,0],[1,0],[15,8],[15,7,3,7],[3,9]]},"legend":null},
    "strokeWidth":{"field":"s","type":"nominal","scale":{"domain":["gray","solid","dash","dashdot","dot"],"range":[5,3.5,4.5,4.5,4.5]},"legend":null}
   }},
  {"data":{"name":"P"},"transform":[{"filter":"datum.p=='BL'"}],"mark":{"type":"rule","color":"#000","strokeWidth":2.2},"encoding":{
    "x":{"field":"x","type":"quantitative","axis":{"values":[0,0.1,0.2,0.3,0.4,0.5,0.6,0.7,0.8,0.9,1],"labelOverlap":false,"labelExpr":"round(datum.value*10)%2==0 ? format(datum.value,'.1f') : ''","tickSize":{"condition":{"test":"round(datum.value*10)%2==0","value":-10},"value":-6},"labelPadding":12,"title":"ρ","titleFont":"DejaVu Sans","titleFontSize":28,"titleFontWeight":"normal","titlePadding":1}},
    "y":{"field":"lo","type":"quantitative","axis":{"values":[0,5,10,15,20,25,30,35,40,45,50,55,60],"labelOverlap":false,"labelExpr":"datum.value>0 && datum.value%10==0 ? datum.label : ''","tickSize":{"condition":{"test":"datum.value%10==0","value":-10},"value":-6},"labelPadding":21,"title":"Ions","titleFont":"Liberation Sans","titleFontSize":25,"titleFontWeight":"bold","titlePadding":27}},
    "y2":{"field":"hi"}}},
  {"data":{"name":"P"},"transform":[{"filter":"datum.p=='BL'"}],"mark":{"type":"tick","orient":"horizontal","color":"#000","size":10,"thickness":2.5},"encoding":{
    "x":{"field":"x","type":"quantitative","axis":{"values":[0,0.1,0.2,0.3,0.4,0.5,0.6,0.7,0.8,0.9,1],"labelOverlap":false,"labelExpr":"round(datum.value*10)%2==0 ? format(datum.value,'.1f') : ''","tickSize":{"condition":{"test":"round(datum.value*10)%2==0","value":-10},"value":-6},"labelPadding":12,"title":"ρ","titleFont":"DejaVu Sans","titleFontSize":28,"titleFontWeight":"normal","titlePadding":1}},
    "y":{"field":"hi","type":"quantitative","axis":{"values":[0,5,10,15,20,25,30,35,40,45,50,55,60],"labelOverlap":false,"labelExpr":"datum.value>0 && datum.value%10==0 ? datum.label : ''","tickSize":{"condition":{"test":"datum.value%10==0","value":-10},"value":-6},"labelPadding":21,"title":"Ions","titleFont":"Liberation Sans","titleFontSize":25,"titleFontWeight":"bold","titlePadding":27}}}},
  {"data":{"name":"P"},"transform":[{"filter":"datum.p=='BL'"}],"mark":{"type":"tick","orient":"horizontal","color":"#000","size":10,"thickness":2.5},"encoding":{
    "x":{"field":"x","type":"quantitative","axis":{"values":[0,0.1,0.2,0.3,0.4,0.5,0.6,0.7,0.8,0.9,1],"labelOverlap":false,"labelExpr":"round(datum.value*10)%2==0 ? format(datum.value,'.1f') : ''","tickSize":{"condition":{"test":"round(datum.value*10)%2==0","value":-10},"value":-6},"labelPadding":12,"title":"ρ","titleFont":"DejaVu Sans","titleFontSize":28,"titleFontWeight":"normal","titlePadding":1}},
    "y":{"field":"lo","type":"quantitative","axis":{"values":[0,5,10,15,20,25,30,35,40,45,50,55,60],"labelOverlap":false,"labelExpr":"datum.value>0 && datum.value%10==0 ? datum.label : ''","tickSize":{"condition":{"test":"datum.value%10==0","value":-10},"value":-6},"labelPadding":21,"title":"Ions","titleFont":"Liberation Sans","titleFontSize":25,"titleFontWeight":"bold","titlePadding":27}}}},
  {"data":{"name":"P"},"transform":[{"filter":"datum.p=='BL'"}],"mark":{"type":"point","shape":"circle","filled":true,"color":"#000","opacity":1,"size":110},"encoding":{
    "x":{"field":"x","type":"quantitative","axis":{"values":[0,0.1,0.2,0.3,0.4,0.5,0.6,0.7,0.8,0.9,1],"labelOverlap":false,"labelExpr":"round(datum.value*10)%2==0 ? format(datum.value,'.1f') : ''","tickSize":{"condition":{"test":"round(datum.value*10)%2==0","value":-10},"value":-6},"labelPadding":12,"title":"ρ","titleFont":"DejaVu Sans","titleFontSize":28,"titleFontWeight":"normal","titlePadding":1}},
    "y":{"field":"y","type":"quantitative","axis":{"values":[0,5,10,15,20,25,30,35,40,45,50,55,60],"labelOverlap":false,"labelExpr":"datum.value>0 && datum.value%10==0 ? datum.label : ''","tickSize":{"condition":{"test":"datum.value%10==0","value":-10},"value":-6},"labelPadding":21,"title":"Ions","titleFont":"Liberation Sans","titleFontSize":25,"titleFontWeight":"bold","titlePadding":27}}}}
 ]},
{"width":288,"height":289,
 "layer":[
  {"data":{"name":"L"},"transform":[{"filter":"datum.p=='BM'"}],"mark":{"type":"line","clip":true,"strokeCap":"butt","strokeJoin":"round"},
   "encoding":{
    "x":{"field":"x","type":"quantitative","scale":{"domain":[0,1]},"axis":{"values":[0,0.1,0.2,0.3,0.4,0.5,0.6,0.7,0.8,0.9,1],"labelOverlap":false,"labelExpr":"round(datum.value*10)%2==0 ? format(datum.value,'.1f') : ''","tickSize":{"condition":{"test":"round(datum.value*10)%2==0","value":-10},"value":-6},"labelPadding":12,"title":"ρ","titleFont":"DejaVu Sans","titleFontSize":28,"titleFontWeight":"normal","titlePadding":1}},
    "y":{"field":"y","type":"quantitative","scale":{"domain":[0,16]},"axis":{"values":[0,1,2,3,4,5,6,7,8,9,10,11,12,13,14,15,16],"labelOverlap":false,"labelExpr":"datum.value>0 && datum.value%2==0 ? datum.label : ''","tickSize":{"condition":{"test":"datum.value%2==0","value":-10},"value":-6},"labelPadding":21,"title":null}},
    "stroke":{"field":"s","type":"nominal","scale":{"domain":["gray","solid","dash","dashdot","dot"],"range":["#8a8a8a","#0a0a0a","#0a0a0a","#0a0a0a","#0a0a0a"]},"legend":null},
    "strokeDash":{"field":"s","type":"nominal","scale":{"domain":["gray","solid","dash","dashdot","dot"],"range":[[1,0],[1,0],[15,8],[15,7,3,7],[3,9]]},"legend":null},
    "strokeWidth":{"field":"s","type":"nominal","scale":{"domain":["gray","solid","dash","dashdot","dot"],"range":[5,3.5,4.5,4.5,4.5]},"legend":null}
   }},
  {"data":{"name":"P"},"transform":[{"filter":"datum.p=='BM'"}],"mark":{"type":"rule","color":"#000","strokeWidth":2.2},"encoding":{
    "x":{"field":"x","type":"quantitative","axis":{"values":[0,0.1,0.2,0.3,0.4,0.5,0.6,0.7,0.8,0.9,1],"labelOverlap":false,"labelExpr":"round(datum.value*10)%2==0 ? format(datum.value,'.1f') : ''","tickSize":{"condition":{"test":"round(datum.value*10)%2==0","value":-10},"value":-6},"labelPadding":12,"title":"ρ","titleFont":"DejaVu Sans","titleFontSize":28,"titleFontWeight":"normal","titlePadding":1}},
    "y":{"field":"lo","type":"quantitative","axis":{"values":[0,1,2,3,4,5,6,7,8,9,10,11,12,13,14,15,16],"labelOverlap":false,"labelExpr":"datum.value>0 && datum.value%2==0 ? datum.label : ''","tickSize":{"condition":{"test":"datum.value%2==0","value":-10},"value":-6},"labelPadding":21,"title":null}},
    "y2":{"field":"hi"}}},
  {"data":{"name":"P"},"transform":[{"filter":"datum.p=='BM'"}],"mark":{"type":"tick","orient":"horizontal","color":"#000","size":10,"thickness":2.5},"encoding":{
    "x":{"field":"x","type":"quantitative","axis":{"values":[0,0.1,0.2,0.3,0.4,0.5,0.6,0.7,0.8,0.9,1],"labelOverlap":false,"labelExpr":"round(datum.value*10)%2==0 ? format(datum.value,'.1f') : ''","tickSize":{"condition":{"test":"round(datum.value*10)%2==0","value":-10},"value":-6},"labelPadding":12,"title":"ρ","titleFont":"DejaVu Sans","titleFontSize":28,"titleFontWeight":"normal","titlePadding":1}},
    "y":{"field":"hi","type":"quantitative","axis":{"values":[0,1,2,3,4,5,6,7,8,9,10,11,12,13,14,15,16],"labelOverlap":false,"labelExpr":"datum.value>0 && datum.value%2==0 ? datum.label : ''","tickSize":{"condition":{"test":"datum.value%2==0","value":-10},"value":-6},"labelPadding":21,"title":null}}}},
  {"data":{"name":"P"},"transform":[{"filter":"datum.p=='BM'"}],"mark":{"type":"tick","orient":"horizontal","color":"#000","size":10,"thickness":2.5},"encoding":{
    "x":{"field":"x","type":"quantitative","axis":{"values":[0,0.1,0.2,0.3,0.4,0.5,0.6,0.7,0.8,0.9,1],"labelOverlap":false,"labelExpr":"round(datum.value*10)%2==0 ? format(datum.value,'.1f') : ''","tickSize":{"condition":{"test":"round(datum.value*10)%2==0","value":-10},"value":-6},"labelPadding":12,"title":"ρ","titleFont":"DejaVu Sans","titleFontSize":28,"titleFontWeight":"normal","titlePadding":1}},
    "y":{"field":"lo","type":"quantitative","axis":{"values":[0,1,2,3,4,5,6,7,8,9,10,11,12,13,14,15,16],"labelOverlap":false,"labelExpr":"datum.value>0 && datum.value%2==0 ? datum.label : ''","tickSize":{"condition":{"test":"datum.value%2==0","value":-10},"value":-6},"labelPadding":21,"title":null}}}},
  {"data":{"name":"P"},"transform":[{"filter":"datum.p=='BM'"}],"mark":{"type":"point","shape":"circle","filled":true,"color":"#000","opacity":1,"size":110},"encoding":{
    "x":{"field":"x","type":"quantitative","axis":{"values":[0,0.1,0.2,0.3,0.4,0.5,0.6,0.7,0.8,0.9,1],"labelOverlap":false,"labelExpr":"round(datum.value*10)%2==0 ? format(datum.value,'.1f') : ''","tickSize":{"condition":{"test":"round(datum.value*10)%2==0","value":-10},"value":-6},"labelPadding":12,"title":"ρ","titleFont":"DejaVu Sans","titleFontSize":28,"titleFontWeight":"normal","titlePadding":1}},
    "y":{"field":"y","type":"quantitative","axis":{"values":[0,1,2,3,4,5,6,7,8,9,10,11,12,13,14,15,16],"labelOverlap":false,"labelExpr":"datum.value>0 && datum.value%2==0 ? datum.label : ''","tickSize":{"condition":{"test":"datum.value%2==0","value":-10},"value":-6},"labelPadding":21,"title":null}}}}
 ]},
{"width":288,"height":289,
 "layer":[
  {"data":{"name":"L"},"transform":[{"filter":"datum.p=='BR'"}],"mark":{"type":"line","clip":true,"strokeCap":"butt","strokeJoin":"round"},
   "encoding":{
    "x":{"field":"x","type":"quantitative","scale":{"domain":[0,1]},"axis":{"values":[0,0.1,0.2,0.3,0.4,0.5,0.6,0.7,0.8,0.9,1],"labelOverlap":false,"labelExpr":"round(datum.value*10)%2==0 ? format(datum.value,'.1f') : ''","tickSize":{"condition":{"test":"round(datum.value*10)%2==0","value":-10},"value":-6},"labelPadding":12,"title":"ρ","titleFont":"DejaVu Sans","titleFontSize":28,"titleFontWeight":"normal","titlePadding":1}},
    "y":{"field":"y","type":"quantitative","scale":{"domain":[0,6]},"axis":{"values":[0,0.5,1,1.5,2,2.5,3,3.5,4,4.5,5,5.5,6],"labelOverlap":false,"labelExpr":"datum.value%1==0 ? format(datum.value,'d') : ''","tickSize":{"condition":{"test":"datum.value%1==0","value":-10},"value":-6},"labelPadding":21,"title":null}},
    "stroke":{"field":"s","type":"nominal","scale":{"domain":["gray","solid","dash","dashdot","dot"],"range":["#8a8a8a","#0a0a0a","#0a0a0a","#0a0a0a","#0a0a0a"]},"legend":null},
    "strokeDash":{"field":"s","type":"nominal","scale":{"domain":["gray","solid","dash","dashdot","dot"],"range":[[1,0],[1,0],[15,8],[15,7,3,7],[3,9]]},"legend":null},
    "strokeWidth":{"field":"s","type":"nominal","scale":{"domain":["gray","solid","dash","dashdot","dot"],"range":[5,3.5,4.5,4.5,4.5]},"legend":null}
   }}
 ]}
]
}
